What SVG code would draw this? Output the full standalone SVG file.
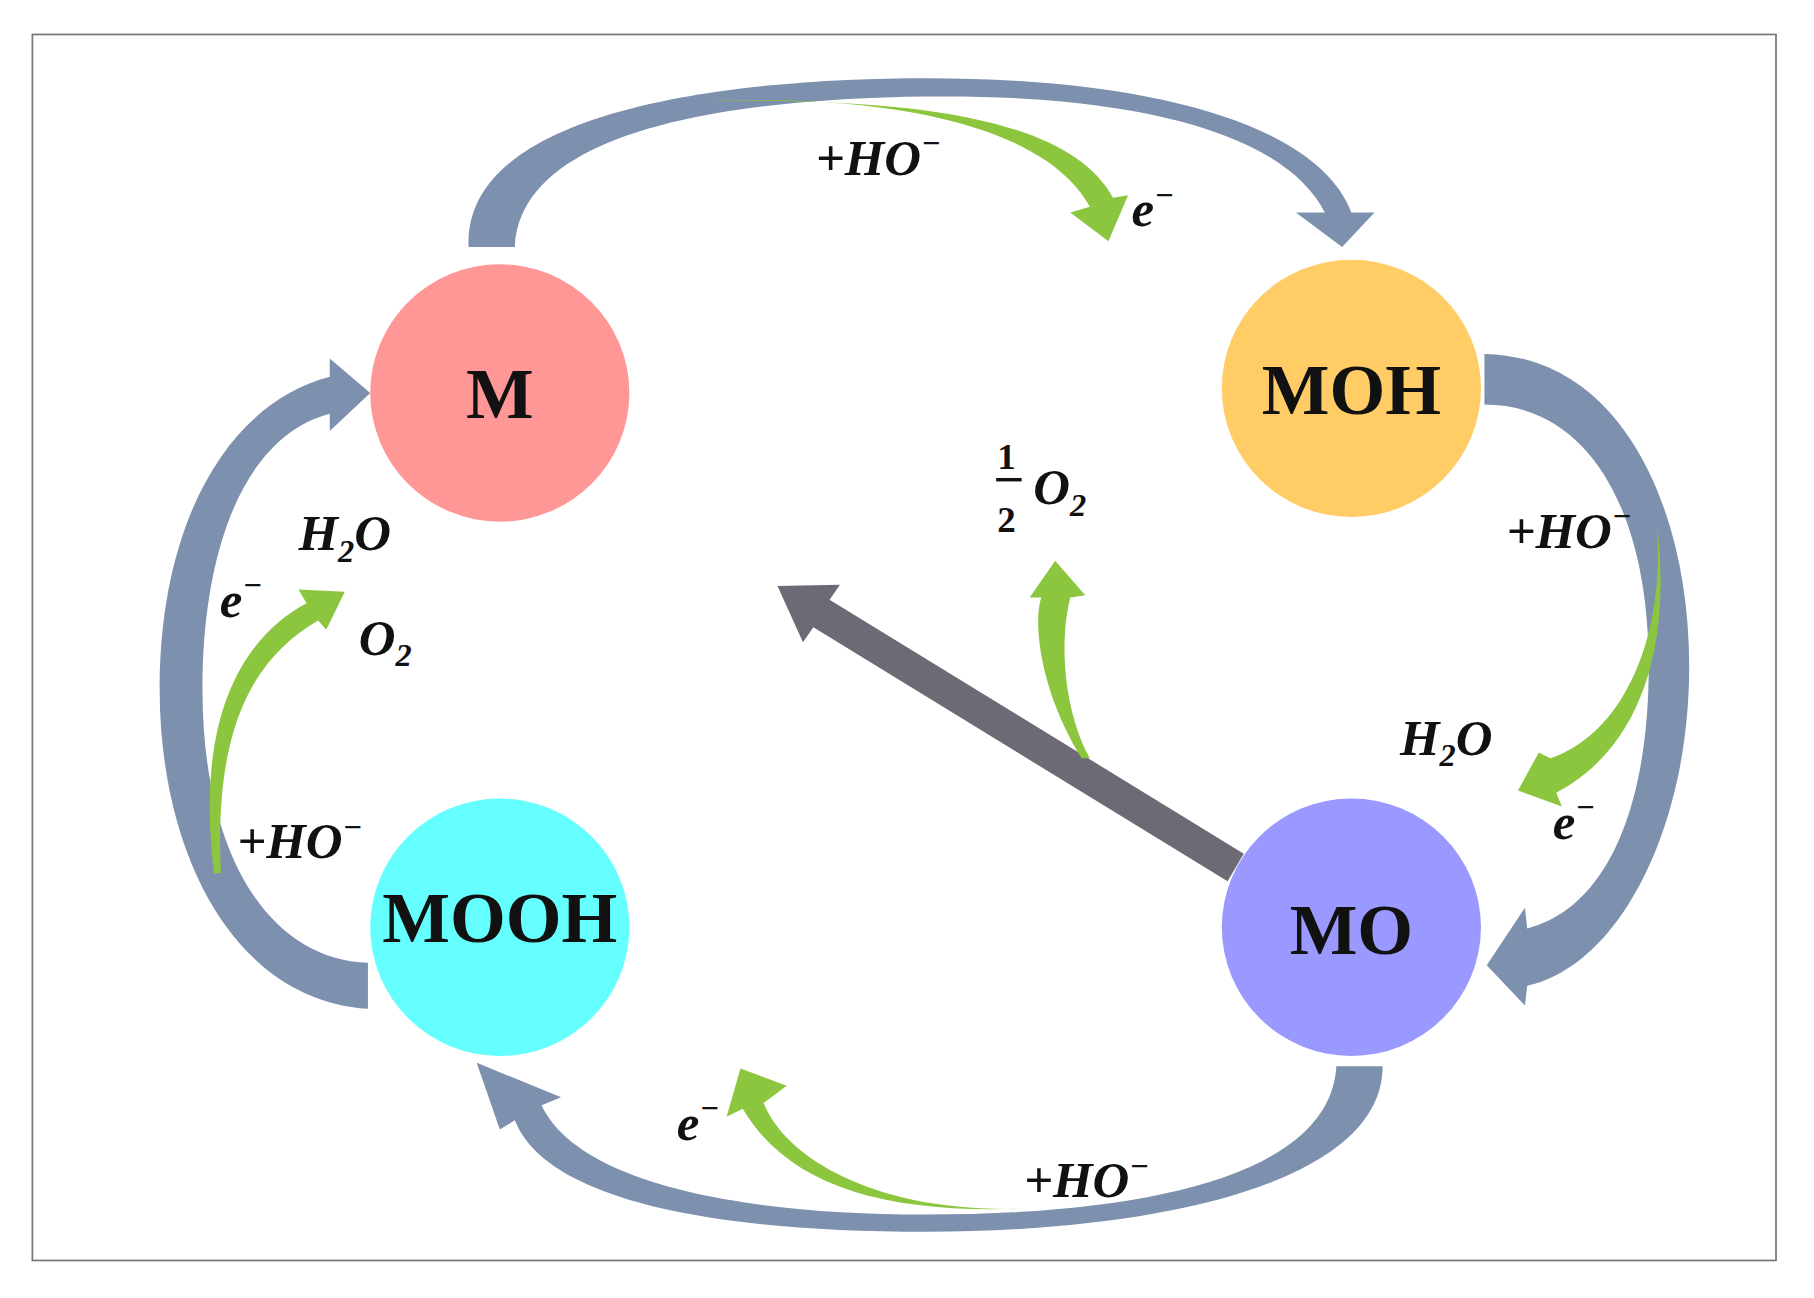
<svg xmlns="http://www.w3.org/2000/svg" width="1814" height="1298" viewBox="0 0 1814 1298">
<style>
.lbl{font-family:"Liberation Serif",serif;font-weight:bold;font-size:62px;fill:#111;text-anchor:middle}
.eq{font-family:"Liberation Serif",serif;font-weight:bold;font-style:italic;font-size:44px;fill:#111}
.sup{font-size:28px}
.blue{fill:#7d90ad}
.green{fill:#8cc63f}
</style>
<rect width="1814" height="1298" fill="#fff"/>
<g transform="scale(1.157,1.149)">
<rect x="28" y="30" width="1507" height="1067" fill="none" stroke="#777" stroke-width="1.5"/>
<g id="connectors">
<path class="blue" d="M405,215 C400,90 650,68 800,68 C1000,68 1140,110 1168,185 L1188,185 L1160,215 L1120,185 L1145,185 C1110,115 980,82 800,84 C640,86 450,110 445,215 Z"/>
<path class="blue" d="M1283,308 C1400,310 1460,440 1460,580 C1460,720 1400,840 1320,858 L1318,875 L1285,840 L1318,790 L1320,808 C1390,790 1425,700 1425,580 C1425,440 1370,352 1283,352 Z"/>
<path class="blue" d="M1195,928 C1195,1030 1000,1072 800,1072 C600,1072 470,1040 445,975 L432,983 L412,925 L485,955 L468,962 C500,1030 640,1057 800,1057 C1000,1057 1150,1020 1155,928 Z"/>
<path class="blue" d="M318,878 C200,870 138,740 138,600 C138,450 200,350 285,328 L285,312 L320,342 L285,375 L285,360 C210,380 175,480 175,600 C175,740 230,835 318,838 Z"/>
<polygon fill="#6e6a75" points="1075,743 717,522 726,509 672,510 694,559 703,546 1061,767"/>
<path class="green" d="M600,88 C800,80 910,120 942,180 L925,185 L958,210 L975,170 L962,172 C925,105 800,84 600,88 Z"/>
<path class="green" d="M1432,455 C1440,560 1400,640 1340,660 L1330,655 L1312,688 L1350,702 L1345,690 C1420,650 1445,560 1432,455 Z"/>
<path class="green" d="M935,660 C898,600 893,540 900,520 L890,520 L912,488 L938,518 L925,520 C915,560 920,620 942,660 Z"/>
<path class="green" d="M185,760 C170,640 200,560 265,525 L258,513 L298,515 L282,548 L275,540 C215,575 185,640 191,760 Z"/>
<path class="green" d="M880,1052 C760,1055 680,1010 660,960 L680,945 L640,930 L628,972 L642,965 C680,1030 760,1056 880,1052 Z"/>
</g>
<g id="M"><circle cx="432" cy="342" r="112" fill="#ff9797"/><text class="lbl" x="432" y="364">M</text></g>
<g id="MOH"><circle cx="1168" cy="338" r="112" fill="#ffcc66"/><text class="lbl" x="1168" y="360">MOH</text></g>
<g id="MOOH"><circle cx="432" cy="807" r="112" fill="#66ffff"/><text class="lbl" x="432" y="820">MOOH</text></g>
<g id="MO"><circle cx="1168" cy="807" r="112" fill="#9999ff"/><text class="lbl" x="1168" y="830">MO</text></g>
<g id="labels">
<text class="eq" x="705" y="152">+HO<tspan class="sup" dy="-18">−</tspan></text>
<text class="eq" x="978" y="197">e<tspan class="sup" dy="-18">−</tspan></text>
<text class="eq" x="1302" y="477">+HO<tspan class="sup" dy="-18">−</tspan></text>
<text class="eq" x="1210" y="657">H<tspan class="sup" dy="10">2</tspan><tspan dy="-10">O</tspan></text>
<text class="eq" x="1342" y="730">e<tspan class="sup" dy="-18">−</tspan></text>
<text class="eq" x="885" y="1042">+HO<tspan class="sup" dy="-18">−</tspan></text>
<text class="eq" x="585" y="992">e<tspan class="sup" dy="-18">−</tspan></text>
<text class="eq" x="205" y="747">+HO<tspan class="sup" dy="-18">−</tspan></text>
<text class="eq" x="190" y="537">e<tspan class="sup" dy="-18">−</tspan></text>
<text class="eq" x="258" y="479">H<tspan class="sup" dy="10">2</tspan><tspan dy="-10">O</tspan></text>
<text class="eq" x="310" y="570">O<tspan class="sup" dy="10">2</tspan></text>
<text class="eq" x="862" y="408" style="font-style:normal;font-size:32px">1</text>
<rect x="861" y="416" width="22" height="3" fill="#111"/>
<text class="eq" x="862" y="463" style="font-style:normal;font-size:32px">2</text>
<text class="eq" x="893" y="439">O<tspan class="sup" dy="10">2</tspan></text>
</g>
</g>
</svg>
